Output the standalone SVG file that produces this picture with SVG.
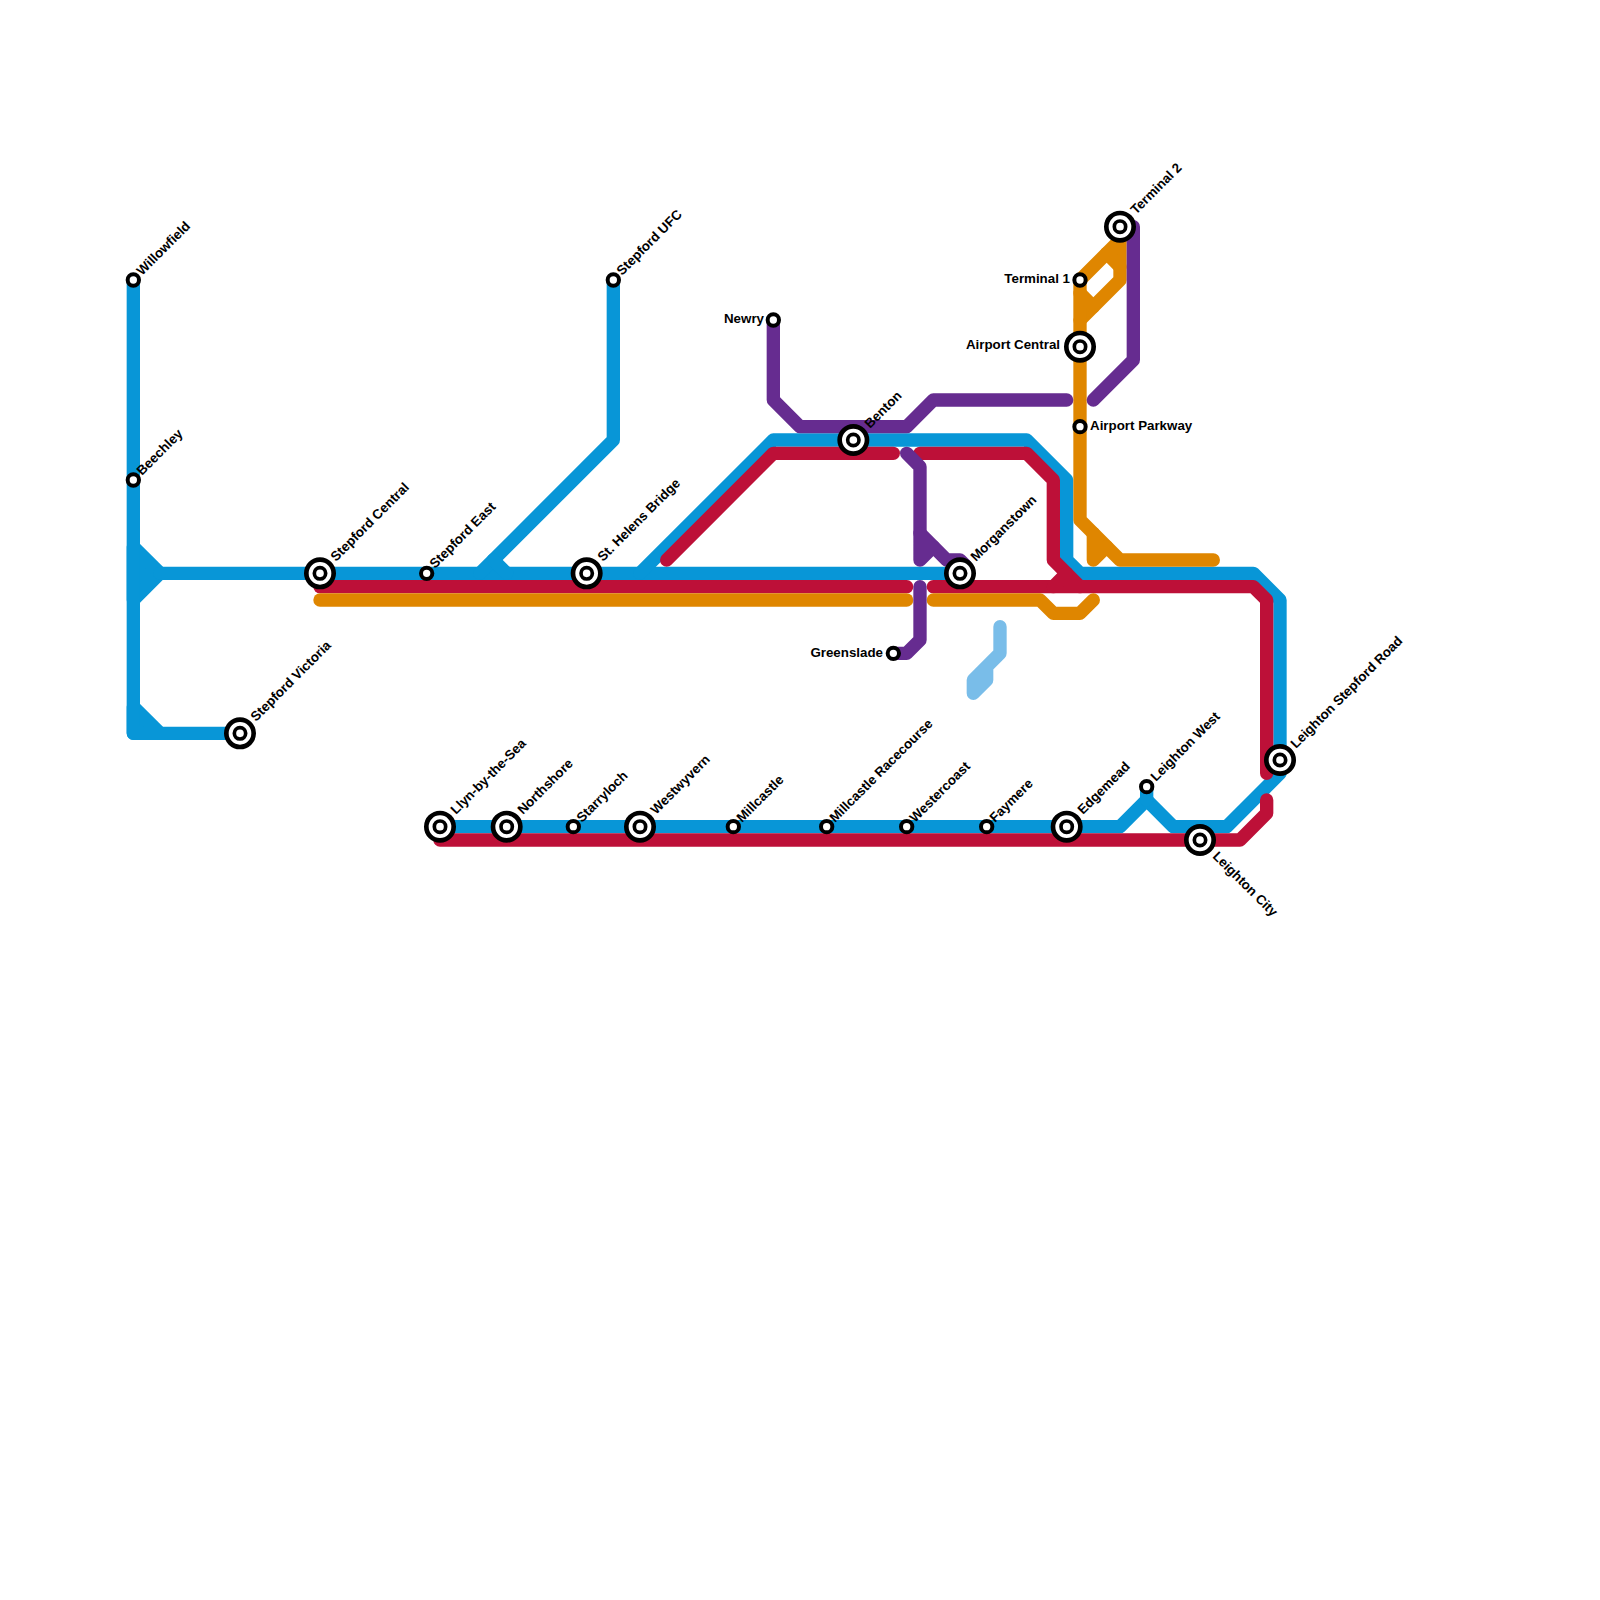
<svg xmlns="http://www.w3.org/2000/svg" width="1600" height="1600" viewBox="0 0 1600 1600">
<style>
.l{fill:none;stroke-width:13.33;stroke-linecap:round;stroke-linejoin:round}
.b{stroke:#0896d7}.r{stroke:#bd1038}.o{stroke:#df8600}.p{stroke:#662c90}.s{stroke:#79bde9}
.f{fill:#0896d7}
.c{fill:#fff;stroke:#000;stroke-width:4}
.x{fill:#fff;stroke:#000;stroke-width:4.67}
.y{fill:#fff;stroke:#000;stroke-width:3.67}
.t{font-family:"Liberation Sans",Arial,sans-serif;font-size:13.33px;font-weight:700;fill:#000}
.e{text-anchor:end}
</style>
<rect width="1600" height="1600" fill="#fff"/>
<g id="connectors">
<path class="l b f" d="M133.33 546.67L160 573.33L133.33 600Z"/>
<path class="l b f" d="M133.33 706.67L160 733.33L133.33 733.33Z"/>
<path class="l b" d="M133.33 280V733.33H240"/>
<path class="l b" d="M160 573.33H960"/>
<path class="l b" d="M613.33 280V440L480 573.33"/>
<path class="l b" d="M493.33 560L506.67 573.33"/>
<path class="l b" d="M640 573.33L773.33 440H1026.67L1066.67 480V560L1080 573.33H1253.33L1280 600V773.33L1226.67 826.67H1173.33L1146.67 800L1120 826.67H440"/>
<path class="l b" d="M1146.67 786.67V800"/>
<path class="l r" d="M320 586.67H906.67"/>
<path class="l r" d="M666.67 560L773.33 453.33H893.33"/>
<path class="l r" d="M920 453.33H1026.67L1053.33 480V560L1080 586.67"/>
<path class="l r" d="M933.33 586.67H1253.33L1266.67 600V773.33"/>
<path class="l r" d="M1053.33 586.67L1066.67 573.33"/>
<path class="l r" d="M1266.67 800V813.33L1240 840H440"/>
<path class="l o" d="M320 600H906.67"/>
<path class="l o" d="M933.33 600H1040L1053.33 613.33H1080L1093.33 600"/>
<path class="l o" d="M1120 226.67V280L1080 320"/>
<path class="l o" d="M1120 240L1080 280V520L1120 560H1213.33"/>
<path class="l o" d="M1080 293.33L1093.33 306.67"/>
<path class="l o" d="M1106.67 253.33L1120 266.67"/>
<path class="l o" d="M1093.33 533.33V560L1106.67 546.67"/>
<path class="l p" d="M773.33 320V400L800 426.67H906.67L933.33 400H1066.67"/>
<path class="l p" d="M1093.33 400L1133.33 360V226.67"/>
<path class="l p" d="M906.67 453.33L920 466.67V560L933.33 546.67"/>
<path class="l p" d="M920 533.33L946.67 560H960L965 565"/>
<path class="l p" d="M920 586.67V640L906.67 653.33H893.33"/>
<path class="l s" d="M1000 626.67V653.33L973.33 680V693.33L986.67 680V666.67"/>
</g>
<defs>
<g id="st"><circle class="c" r="5.67"/></g>
<g id="ix"><circle class="x" r="13.67"/><circle class="y" r="5.67"/></g>
</defs>
<g id="willowfield"><use href="#st" x="133.33" y="280"/><text class="t" transform="translate(142 276) rotate(-45)">Willowfield</text></g>
<g id="beechley"><use href="#st" x="133.33" y="480"/><text class="t" transform="translate(142 476) rotate(-45)">Beechley</text></g>
<g id="stepford-victoria"><use href="#ix" x="240" y="733.33"/><text class="t" transform="translate(256 722) rotate(-45)">Stepford Victoria</text></g>
<g id="stepford-central"><use href="#ix" x="320" y="573.33"/><text class="t" transform="translate(336 562) rotate(-45)">Stepford Central</text></g>
<g id="stepford-east"><use href="#st" x="426.67" y="573.33"/><text class="t" transform="translate(435 569) rotate(-45)">Stepford East</text></g>
<g id="stepford-ufc"><use href="#st" x="613.33" y="280"/><text class="t" transform="translate(622 276) rotate(-45)">Stepford UFC</text></g>
<g id="st-helens-bridge"><use href="#ix" x="586.67" y="573.33"/><text class="t" transform="translate(603 562) rotate(-45)">St. Helens Bridge</text></g>
<g id="newry"><use href="#st" x="773.33" y="320"/><text class="t e" x="764" y="323">Newry</text></g>
<g id="benton"><use href="#ix" x="853.33" y="440"/><text class="t" transform="translate(870 429) rotate(-45)">Benton</text></g>
<g id="morganstown"><use href="#ix" x="960" y="573.33"/><text class="t" transform="translate(976 562) rotate(-45)">Morganstown</text></g>
<g id="greenslade"><use href="#st" x="893.33" y="653.33"/><text class="t e" x="883" y="657">Greenslade</text></g>
<g id="terminal-1"><use href="#st" x="1080" y="280"/><text class="t e" x="1070" y="283">Terminal 1</text></g>
<g id="terminal-2"><use href="#ix" x="1120" y="226.67"/><text class="t" transform="translate(1136 215) rotate(-45)">Terminal 2</text></g>
<g id="airport-central"><use href="#ix" x="1080" y="346.67"/><text class="t e" x="1060" y="349">Airport Central</text></g>
<g id="airport-parkway"><use href="#st" x="1080" y="426.67"/><text class="t" x="1090" y="430">Airport Parkway</text></g>
<g id="llyn-by-the-sea"><use href="#ix" x="440" y="826.67"/><text class="t" transform="translate(456 815) rotate(-45)">Llyn-by-the-Sea</text></g>
<g id="northshore"><use href="#ix" x="506.67" y="826.67"/><text class="t" transform="translate(523 815) rotate(-45)">Northshore</text></g>
<g id="starryloch"><use href="#st" x="573.33" y="826.67"/><text class="t" transform="translate(582 823) rotate(-45)">Starryloch</text></g>
<g id="westwyvern"><use href="#ix" x="640" y="826.67"/><text class="t" transform="translate(656 815) rotate(-45)">Westwyvern</text></g>
<g id="millcastle"><use href="#st" x="733.33" y="826.67"/><text class="t" transform="translate(742 823) rotate(-45)">Millcastle</text></g>
<g id="millcastle-racecourse"><use href="#st" x="826.67" y="826.67"/><text class="t" transform="translate(835 823) rotate(-45)">Millcastle Racecourse</text></g>
<g id="westercoast"><use href="#st" x="906.67" y="826.67"/><text class="t" transform="translate(915 823) rotate(-45)">Westercoast</text></g>
<g id="faymere"><use href="#st" x="986.67" y="826.67"/><text class="t" transform="translate(995 823) rotate(-45)">Faymere</text></g>
<g id="edgemead"><use href="#ix" x="1066.67" y="826.67"/><text class="t" transform="translate(1083 815) rotate(-45)">Edgemead</text></g>
<g id="leighton-west"><use href="#st" x="1146.67" y="786.67"/><text class="t" transform="translate(1156 782) rotate(-45)">Leighton West</text></g>
<g id="leighton-city"><use href="#ix" x="1200" y="840"/><text class="t" transform="translate(1212 857) rotate(45)">Leighton City</text></g>
<g id="leighton-stepford-road"><use href="#ix" x="1280" y="760"/><text class="t" transform="translate(1296 749) rotate(-45)">Leighton Stepford Road</text></g>
</svg>
